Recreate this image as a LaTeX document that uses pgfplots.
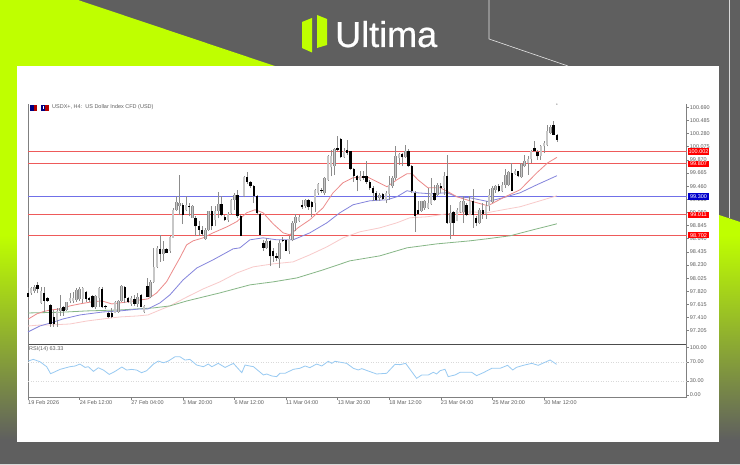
\documentclass[border=0pt]{standalone}
\usepackage{fontspec}
\setmainfont{Liberation Sans}
\newfontfamily\logofont[FakeBold=0.6]{Liberation Sans}
\usepackage{pgfplots}
\usepackage{pgfplotstable}
\pgfplotsset{compat=1.18}
\definecolor{bgg}{HTML}{5F5F5F}
\definecolor{lime}{HTML}{BFFF00}
\definecolor{axg}{HTML}{808080}
\definecolor{txtg}{HTML}{606060}
\definecolor{mared}{HTML}{EC8A8A}
\definecolor{mablue}{HTML}{8484DC}
\definecolor{mapink}{HTML}{F8CACA}
\definecolor{magreen}{HTML}{86B686}
\definecolor{lvlred}{HTML}{EE5A5A}
\definecolor{lvlblue}{HTML}{7070E8}
\definecolor{rsiblue}{HTML}{98CAF2}
\pgfplotstableread{
i o h l c
0 97.800 97.868 97.711 97.737
1 97.789 97.894 97.763 97.868
2 97.831 97.920 97.789 97.883
3 97.920 97.972 97.789 97.852
4 97.644 97.894 97.623 97.831
5 97.800 97.894 97.503 97.675
6 97.711 97.737 97.659 97.675
7 97.607 97.620 97.269 97.310
8 97.414 97.529 97.269 97.310
9 97.373 97.555 97.269 97.519
10 97.519 97.763 97.435 97.555
11 97.571 97.592 97.435 97.519
12 97.529 97.659 97.519 97.649
13 97.675 97.789 97.633 97.711
14 97.675 97.815 97.644 97.711
15 97.685 97.868 97.659 97.842
16 97.696 97.883 97.675 97.862
17 97.696 97.883 97.644 97.868
18 97.815 97.826 97.659 97.696
19 97.711 97.737 97.659 97.685
20 97.753 97.763 97.555 97.571
21 97.571 97.763 97.550 97.753
22 97.711 97.894 97.571 97.868
23 97.857 97.894 97.555 97.571
24 97.592 97.607 97.550 97.571
25 97.487 97.503 97.399 97.414
26 97.477 97.555 97.399 97.414
27 97.487 97.675 97.477 97.659
28 97.503 97.685 97.487 97.675
29 97.675 97.920 97.659 97.904
30 97.894 97.904 97.633 97.711
31 97.711 97.737 97.633 97.659
32 97.623 97.753 97.592 97.711
33 97.696 97.763 97.592 97.623
34 97.623 97.789 97.571 97.737
35 97.763 97.774 97.571 97.581
36 97.503 97.607 97.477 97.592
37 97.904 98.024 97.727 97.737
38 97.737 97.998 97.711 97.972
39 97.972 98.493 97.946 98.206
40 98.206 98.519 98.180 98.493
41 98.477 98.701 98.284 98.404
42 98.404 98.597 98.300 98.477
43 98.477 98.493 98.414 98.425
44 98.456 98.675 98.425 98.664
45 98.659 99.117 98.649 99.091
46 99.091 99.300 99.080 99.206
47 99.143 99.628 99.003 99.195
48 99.169 99.195 98.867 99.013
49 99.091 99.300 99.065 99.159
50 99.143 99.195 98.987 99.128
51 98.971 99.169 98.961 99.143
52 98.961 98.987 98.675 98.831
53 98.846 98.919 98.675 98.779
54 98.779 98.831 98.675 98.711
55 98.638 98.805 98.622 98.779
56 98.779 99.075 98.753 99.065
57 99.065 99.143 98.779 98.846
58 98.935 99.143 98.831 99.076
59 99.076 99.367 98.961 99.180
60 99.180 99.300 98.987 99.013
61 98.982 99.013 98.919 98.940
62 98.940 99.055 98.899 99.023
63 99.034 99.263 99.013 99.247
64 99.247 99.352 99.091 99.315
65 99.326 99.404 98.971 98.987
66 98.987 99.003 98.675 98.690
67 99.300 99.613 99.285 99.602
68 99.597 99.675 99.493 99.524
69 99.519 99.545 99.430 99.456
70 99.456 99.483 99.196 99.300
71 99.300 99.316 99.014 99.040
72 99.029 99.040 98.675 98.701
73 98.571 98.623 98.451 98.503
74 98.503 98.649 98.483 98.597
75 98.608 98.623 98.207 98.363
76 98.441 98.493 98.274 98.363
77 98.373 98.415 98.285 98.347
78 98.326 98.623 98.191 98.571
79 98.623 98.660 98.587 98.597
80 98.613 98.623 98.441 98.451
81 98.441 98.675 98.399 98.639
82 98.623 98.910 98.597 98.884
83 98.884 99.024 98.753 98.972
84 98.920 99.014 98.899 98.972
85 99.170 99.248 99.108 99.128
86 99.144 99.264 99.118 99.248
87 99.248 99.264 99.092 99.128
88 99.212 99.222 98.972 99.128
89 99.196 99.420 99.055 99.404
90 99.352 99.509 99.326 99.493
91 99.404 99.430 99.352 99.378
92 99.352 99.597 99.326 99.587
93 99.561 99.951 99.545 99.925
94 99.753 100.029 99.613 99.925
95 99.769 100.055 99.639 100.045
96 100.055 100.238 100.003 100.029
97 100.201 100.212 99.899 99.910
98 99.910 100.055 99.899 100.014
99 100.029 100.186 99.951 99.977
100 100.003 100.014 99.717 99.733
101 99.733 99.743 99.524 99.613
102 99.613 99.639 99.378 99.561
103 99.561 99.691 99.535 99.623
104 99.613 99.691 99.561 99.587
105 99.613 99.847 99.493 99.524
106 99.524 99.561 99.404 99.430
107 99.430 99.456 99.222 99.352
108 99.352 99.378 99.222 99.248
109 99.274 99.352 99.233 99.326
110 99.337 99.352 99.248 99.264
111 99.248 99.378 99.196 99.352
112 99.337 99.613 99.248 99.472
113 99.456 99.613 99.430 99.587
114 99.587 100.081 99.561 99.925
115 99.899 99.977 99.795 99.962
116 99.962 99.977 99.769 99.910
117 99.910 100.108 99.899 100.003
118 100.014 100.045 99.753 99.769
119 99.769 99.795 99.352 99.378
120 99.352 99.378 98.743 98.988
121 99.092 99.233 99.014 99.024
122 99.076 99.233 99.055 99.222
123 99.118 99.248 99.092 99.233
124 99.118 99.430 99.108 99.196
125 99.180 99.587 99.170 99.352
126 99.352 99.483 99.233 99.248
127 99.316 99.509 99.300 99.483
128 99.467 99.509 99.352 99.430
129 99.430 99.680 99.326 99.613
130 99.613 99.941 98.873 98.884
131 98.884 99.170 98.639 99.040
132 99.055 99.065 98.691 98.884
133 98.920 99.118 98.910 99.092
134 99.055 99.233 99.040 99.212
135 99.055 99.300 98.883 99.221
136 99.169 99.195 98.987 99.013
137 99.013 99.300 99.003 99.232
138 99.232 99.419 98.815 99.013
139 98.961 98.987 98.831 98.883
140 98.893 99.117 98.867 99.091
141 99.091 99.195 98.950 99.024
142 99.024 99.221 98.950 99.143
143 99.143 99.419 99.065 99.326
144 99.211 99.456 99.195 99.430
145 99.404 99.482 99.352 99.456
146 99.456 99.492 99.367 99.378
147 99.378 99.523 99.367 99.471
148 99.471 99.732 99.430 99.638
149 99.482 99.701 99.456 99.680
150 99.664 99.820 99.378 99.388
151 99.648 99.732 99.638 99.690
152 99.690 99.701 99.596 99.612
153 99.596 99.820 99.586 99.805
154 99.768 99.951 99.753 99.857
155 99.820 99.924 99.638 99.888
156 99.888 100.029 99.820 100.013
157 100.055 100.169 99.992 100.003
158 99.992 100.029 99.872 99.924
159 99.924 100.107 99.872 100.081
160 100.081 100.159 99.977 100.133
161 100.107 100.419 100.081 100.315
162 100.289 100.409 100.273 100.383
163 100.409 100.482 100.253 100.263
164 100.253 100.273 100.148 100.185
}\candles
\pgfplotstableread{
i p
0 97.384
2.7 97.467
4.7 97.503
7 97.529
10 97.545
13 97.592
16 97.623
19.7 97.654
22.9 97.67
26 97.623
28.5 97.639
31.6 97.659
34.7 97.685
37.2 97.701
39.9 97.795
43 97.971
45 98.154
47.1 98.342
49.2 98.545
51.2 98.607
54.3 98.654
57.4 98.732
61.7 98.826
64.8 98.909
67.8 99.045
70.4 99.092
72.9 99.045
76 98.873
79.1 98.732
81.2 98.701
83.7 98.81
87.4 98.936
91.5 99.123
94.6 99.357
97.7 99.514
100.8 99.592
105.1 99.607
108.2 99.529
111.3 99.451
114.4 99.56
117.5 99.654
119.1 99.654
120.9 99.56
124 99.435
127.8 99.435
130.2 99.373
133 99.295
137 99.232
142.6 99.154
147.3 99.279
152.6 99.404
157.8 99.67
161.2 99.826
164 99.909
}\mared
\pgfplotstableread{
i p
0 97.186
3.7 97.279
7 97.326
10.9 97.389
16.1 97.451
23.3 97.498
28.5 97.514
34.7 97.545
37.2 97.545
40.9 97.639
44 97.764
48.1 97.998
52.4 98.186
57.4 98.311
63.6 98.482
65.7 98.498
68.8 98.623
72.9 98.654
77.2 98.623
82.2 98.623
87.4 98.732
92.7 98.889
96.7 99.045
100.8 99.17
106 99.232
111.3 99.248
114.4 99.295
117.5 99.389
120.6 99.357
124.7 99.342
129.9 99.357
133 99.295
137 99.279
142.6 99.221
147.3 99.279
152.6 99.357
157.8 99.482
164 99.623
}\mablue
\pgfplotstableread{
i p
0 97.279
4 97.295
7 97.295
13 97.31
18.3 97.357
23.3 97.389
28.5 97.42
33.8 97.435
37.2 97.451
40.9 97.529
44 97.592
49.3 97.732
54.3 97.857
59.5 97.967
64.8 98.107
69.8 98.201
76 98.248
82.2 98.279
87.4 98.389
92.7 98.514
97.7 98.654
102.9 98.748
109.1 98.81
114.4 98.889
118.4 98.967
123.7 98.982
129.9 99.029
137 99.06
142.3 99.045
147.3 99.092
152.6 99.139
157.8 99.217
164 99.31
}\mapink
\pgfplotstableread{
i p
0 97.482
10.2 97.493
18.3 97.514
28.5 97.529
38.8 97.56
44 97.592
49.3 97.67
59.5 97.795
68.8 97.92
76 97.967
83.4 98.029
91.5 98.154
99.8 98.295
109.1 98.373
117.5 98.498
126.8 98.56
137 98.607
142.3 98.639
149.5 98.686
156.6 98.779
164 98.873
}\magreen
\pgfplotstableread{
i r
0.1 71.7
1.65 75.3
3.7 70.3
5.8 59.8
7 45
8.4 49.2
9.9 54.1
13 59.8
14.6 61.2
16.1 65.4
17.7 58.3
18.7 59.8
20.3 49.9
21.8 57.6
23.4 52.7
25.2 43.5
27 49.9
29.1 59.1
30.6 52.7
32.1 54.1
33.7 52.7
35.2 47.1
36.8 51.3
38.9 65.4
40.4 71.7
42 68.2
43.5 71.7
45.6 80.9
47.1 80.9
48.7 73.8
50.2 75.3
52.3 63.3
54.4 59.8
55.9 65.4
57 59.8
59 66.8
61.1 58.3
63.7 66.8
66.3 47.1
67.3 63.3
68.8 61.2
69.9 59.9
73 42.3
74 44.4
75.6 40.2
77.1 38.8
78.1 45.8
79.7 45.8
82.3 54.3
84.3 56.4
85.9 61.3
87.4 57.8
89.5 65.5
91.1 61.3
93.1 71.2
94.2 66.9
95.2 71.2
98.8 66.9
100.9 56.4
102.4 52.9
103.5 55.7
105.5 50.7
108.1 44.4
111.2 45.8
113.8 64.8
115.4 64.1
117.1 66.9
120.5 35.2
122.1 42.3
124.1 42.3
125.7 47.9
126.7 44.4
127.8 51.4
129.3 54.3
130.3 38.8
132.4 42.3
134 47.9
137.6 47.9
139.1 40.9
141.2 47.2
143.8 56.4
146.4 56.4
148.7 62.7
150.3 52.9
151.5 58.5
153.6 62.7
156.2 66.9
158.2 62.7
161.9 74
163.9 64.8
}\rsi
\newcommand{\smallf}{\fontsize{5.5}{6}\selectfont}
\begin{document}
\begin{tikzpicture}[x=1pt,y=1pt]
\useasboundingbox (0,0) rectangle (740,465);
% background
\fill[bgg] (0,0) rectangle (740,465);
\fill[lime] (0,465) -- (78,465) -- (740,243) -- (740,229) -- (0,229) -- cycle;
\shade[top color=lime,bottom color=bgg] (0,230) rectangle (740,25);
\draw[white!80!gray,line width=.6pt] (489,465) -- (489,426) -- (568,399);
\draw[white!70!gray,line width=.6pt] (729,465) -- (729,247);
\draw[white!70!gray,line width=.8pt] (0,.4) -- (740,.4);
% logo
\fill[lime] (302,443) -- (312,447) -- (312,412.5) -- (302,417) -- cycle;
\fill[lime] (317,450) -- (327,446) -- (327,420) -- (317,417) -- cycle;
\node[anchor=base west,inner sep=0,text=white] at (335,418) {\fontsize{36}{38}\selectfont\logofont Ultima};
% panel
\fill[white] (17,23) rectangle (719,399);
% header
\fill[blue!50!black] (30,354.3) rectangle (34,360);
\fill[red!70!black] (34,354.3) rectangle (37,360);
\fill[blue!50!black] (41,354.3) rectangle (45,360);
\fill[red!70!black] (45,354.3) rectangle (48.7,360);
\fill[white] (43,356) rectangle (44,359);
\node[anchor=west,inner sep=0,text=txtg] at (52,357.5) {\smallf USDX+, H4:\ \ US Dollar Index CFD (USD)};
\begin{axis}[
  at={(28pt,120.3pt)},anchor=south west,
  scale only axis,width=658.7pt,height=240.7pt,
  xmin=0,xmax=204.25,ymin=96.987,ymax=100.748,
  clip=false,
  axis x line=bottom,axis y line=box,
  axis line style={-,draw=axg,line width=.7pt},
  x axis line style={draw=black!70,line width=.9pt},
  xtick=\empty,
  ytick={100.69,100.485,100.28,100.075,99.87,99.665,99.46,99.255,99.05,98.845,98.64,98.435,98.23,98.025,97.82,97.615,97.41,97.205},
  ytick pos=right,ytick align=outside,
  tick style={draw=axg,line width=.5pt},
  major tick length=2pt,
  yticklabel pos=right,
  yticklabel style={font=\smallf,text=txtg,inner sep=0,xshift=1pt,
    /pgf/number format/.cd,fixed,fixed zerofill,precision=3,1000 sep={},assume math mode=true},
]
\addplot[lvlred,line width=1pt,forget plot] coordinates {(0,100.002)(204.25,100.002)};
\addplot[lvlred,line width=1pt,forget plot] coordinates {(0,99.807)(204.25,99.807)};
\addplot[lvlred,line width=1pt,forget plot] coordinates {(0,99.011)(204.25,99.011)};
\addplot[lvlred,line width=1pt,forget plot] coordinates {(0,98.696)(204.25,98.696)};
\addplot[lvlblue,line width=1.3pt,forget plot] coordinates {(0,99.3)(204.25,99.3)};
\addplot[mapink,line width=.8pt] table[x=i,y=p]{\mapink};
\addplot[magreen,line width=.8pt] table[x=i,y=p]{\magreen};
\addplot[mablue,line width=.8pt] table[x=i,y=p]{\mablue};
\addplot[mared,line width=.8pt] table[x=i,y=p]{\mared};
% wicks
\addplot[draw=none,forget plot,error bars/.cd,y dir=plus,y explicit,error mark=none,
  error bar style={draw=black!45,line width=.7pt}]
  table[x=i,y=l,y error plus expr=\thisrow{h}-\thisrow{l}]{\candles};
% up bodies
\addplot[draw=none,forget plot,error bars/.cd,y dir=plus,y explicit,error mark=none,
  error bar style={draw=black!45,line width=2.5pt}]
  table[x=i,y=o,y error plus expr={max(\thisrow{c}-\thisrow{o},0)}]{\candles};
\addplot[draw=none,forget plot,error bars/.cd,y dir=plus,y explicit,error mark=none,
  error bar style={draw=black!22,line width=1.5pt}]
  table[x=i,y=o,y error plus expr={max(\thisrow{c}-\thisrow{o},0)}]{\candles};
% down bodies
\addplot[draw=none,forget plot,error bars/.cd,y dir=plus,y explicit,error mark=none,
  error bar style={draw=black,line width=2.4pt}]
  table[x=i,y=c,y error plus expr={max(\thisrow{o}-\thisrow{c},0)}]{\candles};
\addplot[only marks,mark=*,mark size=.35pt,draw=black!50,fill=black!50,forget plot] coordinates {(164,100.74)};
% price tags
\tikzset{tag/.style={anchor=west,inner sep=.4pt,fill=#1,text=white,font=\smallf,minimum width=21pt,minimum height=6.4pt,align=center}}
\node[tag=red] at (axis cs:204.6,100.002) {100.002};
\node[tag=red] at (axis cs:204.6,99.807) {99.807};
\node[tag=blue!80!black] at (axis cs:204.6,99.3) {99.300};
\node[tag=red] at (axis cs:204.6,99.011) {99.011};
\node[tag=red] at (axis cs:204.6,98.696) {98.702};
\end{axis}
\begin{axis}[
  at={(28pt,67.3pt)},anchor=south west,
  scale only axis,width=658.7pt,height=53pt,
  xmin=0,xmax=204.25,ymin=-5.7,ymax=106.3,
  axis x line=bottom,axis y line=box,
  axis line style={-,draw=axg,line width=.7pt},
  xtick={0,16,32,48,64,80,96,112,128,144,160},
  xticklabels={19 Feb 2026,24 Feb 12:00,27 Feb 04:00,3 Mar 20:00,6 Mar 12:00,11 Mar 04:00,13 Mar 20:00,18 Mar 12:00,23 Mar 04:00,25 Mar 20:00,30 Mar 12:00},
  xtick align=outside,xtick pos=bottom,
  x tick label style={font=\smallf,text=txtg,anchor=north west,inner sep=0,yshift=-1pt},
  ytick={0,30,70,100},
  yticklabels={0.00,30.00,70.00,100.00},
  ytick pos=right,ytick align=outside,
  tick style={draw=axg,line width=.5pt},
  major tick length=2pt,
  yticklabel pos=right,
  yticklabel style={font=\smallf,text=txtg,inner sep=0,xshift=1pt},
]
\addplot[black!15,dotted,line width=.5pt,forget plot] coordinates {(0,70)(204.25,70)};
\addplot[black!15,dotted,line width=.5pt,forget plot] coordinates {(0,30)(204.25,30)};
\addplot[rsiblue,line width=.8pt] table[x=i,y=r]{\rsi};
\end{axis}
\node[anchor=west,inner sep=0,text=txtg] at (29,115.7) {\smallf RSI(14) 63.33};
\end{tikzpicture}
\end{document}
